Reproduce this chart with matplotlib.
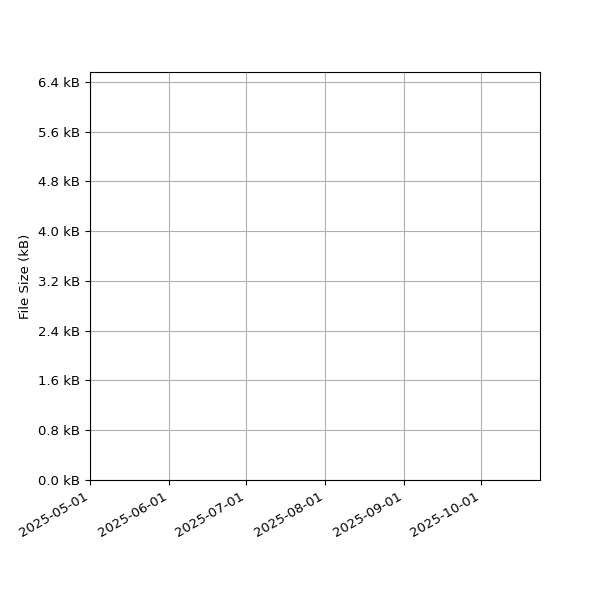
import numpy as np
import matplotlib
matplotlib.use('Agg')
import matplotlib.pyplot as plt
import matplotlib.dates as mdates
from matplotlib.ticker import FuncFormatter, MultipleLocator
from datetime import datetime

# no data points are visible in the chart
dates = []
sizes_kb = []

x_start = datetime(2025, 5, 1)
x_end = datetime(2025, 10, 24)
y_max = 6.56

fontsize = 9.5

fig, ax = plt.subplots(figsize=(6, 6), dpi=100)
fig.subplots_adjust(left=0.15, right=0.9, top=0.88, bottom=0.2)

ax.plot(dates, sizes_kb)

ax.set_xlim(x_start, x_end)
ax.set_ylim(0, y_max)

ax.xaxis.set_major_locator(mdates.MonthLocator())
ax.xaxis.set_major_formatter(mdates.DateFormatter('%Y-%m-%d'))
ax.yaxis.set_major_locator(MultipleLocator(0.8))
ax.yaxis.set_major_formatter(FuncFormatter(lambda v, p: f'{v:.1f} kB'))
ax.tick_params(labelsize=fontsize)

for label in ax.get_xticklabels():
    label.set_rotation(30)
    label.set_ha('right')

ax.set_ylabel('File Size (kB)', fontsize=fontsize)
ax.grid(True)

fig.savefig('out.png', dpi=100)
